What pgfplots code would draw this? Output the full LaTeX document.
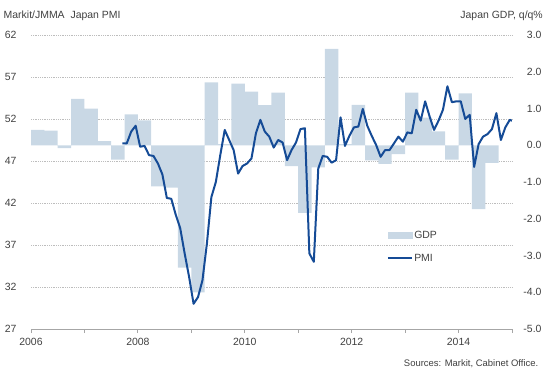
\documentclass[border=0pt]{standalone}
\usepackage{pgfplots}
\pgfplotsset{compat=1.18}
\usepackage{fontspec}
\setmainfont{Liberation Sans}
\definecolor{barcol}{HTML}{C9D8E5}
\definecolor{linecol}{HTML}{154B96}
\definecolor{txt}{HTML}{404040}
\definecolor{gridc}{HTML}{BDBDBD}
\definecolor{axc}{HTML}{A6A6A6}
\pgfplotsset{
  base/.style={scale only axis, width=481bp, height=294bp, at={(0,0)}, anchor=south west,
    xmin=2006, xmax=2015,
    tick label style={font=\fontsize{10.5}{12}\selectfont, text=txt}},
}
\begin{document}
\begin{tikzpicture}
\path[use as bounding box] (-31bp,-49bp) rectangle (519bp,329bp);
% background axis: grid, left labels, x axis
\begin{axis}[base, ymin=27, ymax=62,
  axis x line*=bottom, axis y line*=left,
  y axis line style={draw=none},
  x axis line style={draw=axc, line width=0.9bp},
  xtick={2006,2008,2010,2012,2014}, xticklabels={2006,2008,2010,2012,2014},
  minor xtick={2007,2009,2011,2013,2015},
  tick align=outside, major tick length=4bp, minor tick length=4bp,
  xtick style={draw=axc, line width=0.9bp}, ytick style={draw=none},
  ytick={27,32,...,62}, yticklabels={27,32,37,42,47,52,57,62},
  ymajorgrids, grid style={gridc, dash pattern=on 0.9bp off 0.9bp, line width=0.8bp},
  yticklabel style={xshift=-7bp},
  xticklabel style={yshift=-2bp},
]
\end{axis}
% GDP bars on right axis
\begin{axis}[base, ymin=-5, ymax=3,
  axis y line*=right, axis x line=none,
  y axis line style={draw=none}, ytick style={draw=none},
  ytick={-5,-4,...,3}, yticklabels={-5.0,-4.0,-3.0,-2.0,-1.0,0.0,1.0,2.0,3.0},
  yticklabel style={anchor=east, xshift=33bp},
]
\addplot[ybar, bar width=0.25, fill=barcol, draw=none] coordinates {
(2006.125,0.42) (2006.375,0.40) (2006.625,-0.08) (2006.875,1.26)
(2007.125,1.00) (2007.375,0.11) (2007.625,-0.39) (2007.875,0.84)
(2008.125,0.68) (2008.375,-1.12) (2008.625,-1.15) (2008.875,-3.33)
(2009.125,-4.00) (2009.375,1.71) (2009.625,0.03) (2009.875,1.68)
(2010.125,1.46) (2010.375,1.09) (2010.625,1.43) (2010.875,-0.57)
(2011.125,-1.84) (2011.375,-0.60) (2011.625,2.62) (2011.875,0.03)
(2012.125,1.10) (2012.375,-0.41) (2012.625,-0.51) (2012.875,-0.24)
(2013.125,1.43) (2013.375,0.75) (2013.625,0.38) (2013.875,-0.39)
(2014.125,1.41) (2014.375,-1.74) (2014.625,-0.48)
};
\end{axis}
% PMI line
\begin{axis}[base, ymin=27, ymax=62, hide axis,
  legend style={at={(0.733,0.345)}, anchor=north west, draw=none, fill=none,
    font=\fontsize{10.5}{12}\selectfont, text=txt, row sep=11bp,
    nodes={inner sep=1.5bp}},
  legend cell align=left,
]
\addlegendimage{legend image code/.code={\fill[barcol] (0bp,-3bp) rectangle (24bp,3bp);}}
\addlegendentry{GDP}
\addplot[linecol, line width=2bp, line join=round,
  legend image code/.code={\draw[linecol, line width=2bp] (0bp,0bp) -- (24bp,0bp);}]
  coordinates {
(2007.7083,49.1) (2007.7917,49.1) (2007.875,50.5) (2007.9583,51.2)
(2008.0417,48.7) (2008.125,48.8) (2008.2083,47.7) (2008.2917,47.6) (2008.375,46.7) (2008.4583,45.4)
(2008.5417,42.6) (2008.625,42.5) (2008.7083,40.6) (2008.7917,39.0) (2008.875,36.0) (2008.9583,33.2)
(2009.0417,30.0) (2009.125,30.8) (2009.2083,32.8) (2009.2917,37.2) (2009.375,42.7) (2009.4583,44.5)
(2009.5417,47.7) (2009.625,50.7) (2009.7083,49.5) (2009.7917,48.3) (2009.875,45.5) (2009.9583,46.4)
(2010.0417,46.7) (2010.125,47.3) (2010.2083,50.3) (2010.2917,51.9) (2010.375,50.5) (2010.4583,49.9)
(2010.5417,48.6) (2010.625,49.5) (2010.7083,49.2) (2010.7917,47.1) (2010.875,48.3) (2010.9583,49.2)
(2011.0417,50.8) (2011.125,50.9) (2011.2083,36.0) (2011.2917,35.0) (2011.375,46.1) (2011.4583,47.6)
(2011.5417,47.5) (2011.625,46.8) (2011.7083,47.1) (2011.7917,52.2) (2011.875,48.8) (2011.9583,50.0)
(2012.0417,51.0) (2012.125,51.1) (2012.2083,53.2) (2012.2917,51.2) (2012.375,50.0) (2012.4583,48.9)
(2012.5417,47.5) (2012.625,48.3) (2012.7083,48.3) (2012.7917,49.1) (2012.875,49.9) (2012.9583,49.3)
(2013.0417,50.4) (2013.125,50.3) (2013.2083,53.1) (2013.2917,51.8) (2013.375,54.1) (2013.4583,52.3)
(2013.5417,50.7) (2013.625,51.8) (2013.7083,53.1) (2013.7917,55.9) (2013.875,54.0) (2013.9583,54.1)
(2014.0417,54.1) (2014.125,52.0) (2014.2083,52.5) (2014.2917,46.3) (2014.375,49.0) (2014.4583,49.9)
(2014.5417,50.2) (2014.625,50.8) (2014.7083,52.7) (2014.7917,49.5) (2014.875,51.0) (2014.9583,51.9)
(2015.0417,51.7)
};
\addlegendentry{PMI}
\end{axis}
\node[anchor=west, inner sep=0pt, font=\fontsize{10.5}{12}\selectfont, text=txt] at (-27.5bp,313.5bp) {Markit/JMMA\ \ Japan PMI};
\node[anchor=east, inner sep=0pt, font=\fontsize{10.5}{12}\selectfont, text=txt] at (512bp,313.5bp) {Japan GDP, q/q\%};
\node[anchor=east, inner sep=0pt, font=\fontsize{9.5}{11}\selectfont, text=txt] at (507.5bp,-35bp) {Sources: Markit, Cabinet Office.};
\end{tikzpicture}
\end{document}
